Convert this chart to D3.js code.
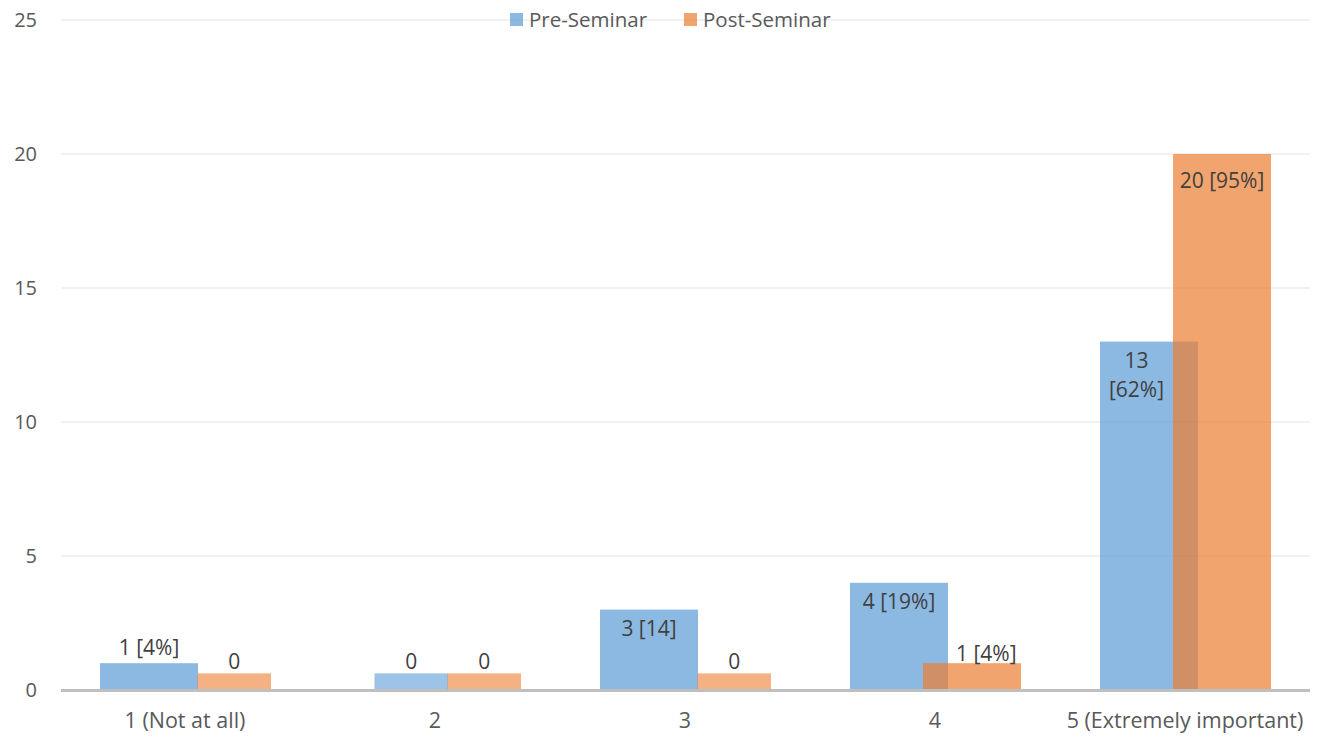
<!DOCTYPE html>
<html>
<head>
<meta charset="utf-8">
<script src="https://cdn.jsdelivr.net/npm/d3@7"></script>
<style>
  body { margin: 0; background: #fff; }
  text { font-family: "Open Sans", sans-serif; }
</style>
</head>
<body>
<div id="chart"></div>
<script>

// data
var categories = ["1 (Not at all)", "2", "3", "4", "5 (Extremely important)"];
var preValues = [1, 0, 3, 4, 13];
var postValues = [0, 0, 0, 1, 20];
var preLabels = ["1 [4%]", "0", "3 [14]", "4 [19%]", "13\n[62%]"];
var postLabels = ["0", "0", "0", "1 [4%]", "20 [95%]"];
var seriesNames = ["Pre-Seminar", "Post-Seminar"];
var yTicks = [0, 5, 10, 15, 20, 25];

var width = 1322, height = 738;
var margin = { top: 20, right: 12, bottom: 48, left: 60 };

var svg = d3.select("#chart").append("svg")
    .attr("width", width)
    .attr("height", height);

var x = d3.scaleBand()
    .domain(categories)
    .range([margin.left, width - margin.right]);

var y = d3.scaleLinear()
    .domain([0, 25])
    .range([height - margin.bottom, margin.top]);

var bw = x.bandwidth();
var barW = bw * 0.392;
var stubW = barW * 0.75;    // zero values get a short, narrower stub
var stubH = 0.62;
// series slot offsets inside each band (bars overlap a bit)
var offsets = [bw * 0.16, bw * 0.452];
var colors = ["#5b9bd5", "#ed7d31"];

//GRID
svg.append("g")
  .selectAll("line")
  .data(yTicks.filter(function(d){ return d > 0; }))
  .enter().append("line")
  .attr("x1", margin.left + 1)
  .attr("x2", width - margin.right)
  .attr("y1", function(d){ return y(d); })
  .attr("y2", function(d){ return y(d); })
  .attr("stroke", "#ececec")
  .attr("stroke-width", 1.5);

//Y LABELS
svg.append("g")
  .selectAll("text")
  .data(yTicks)
  .enter().append("text")
  .attr("x", 37)
  .attr("y", function(d){ return y(d); })
  .attr("dy", "0.36em")
  .attr("text-anchor", "end")
  .attr("fill", "#595959")
  .style("font-size", "20px")
  .text(function(d){ return d; });

// bar table
var bars = [];
categories.forEach(function(c, i){
  [preValues[i], postValues[i]].forEach(function(v, s){
    var slotX = x(c) + offsets[s];
    var zero = v == 0;
    var w = zero ? stubW : barW;
    bars.push({
      cat: c, s: s, value: v, zero: zero,
      x: zero ? slotX + barW - stubW : slotX,
      w: w,
      top: y(zero ? stubH : v),
      label: s == 0 ? preLabels[i] : postLabels[i]
    });
  });
});

svg.append("g")
  .selectAll("rect")
  .data(bars)
  .enter().append("rect")
  .attr("x", function(d){ return d.x; })
  .attr("width", function(d){ return d.w; })
  .attr("y", function(d){ return d.top; })
  .attr("height", function(d){ return y(0) - d.top + (d.zero ? 1.5 : 0); })
  .attr("fill", function(d){ return colors[d.s]; })
  .attr("fill-opacity", function(d){ return d.zero ? 0.6 : 0.7; });

//AXIS LINE
svg.append("line")
  .attr("x1", margin.left + 1)
  .attr("x2", width - margin.right)
  .attr("y1", y(0) + 0.5)
  .attr("y2", y(0) + 0.5)
  .attr("stroke", "#bfbfbf")
  .attr("stroke-width", 3);

//CATEGORY LABELS
svg.append("g")
  .selectAll("text")
  .data(categories)
  .enter().append("text")
  .attr("x", function(d){ return x(d) + bw / 2; })
  .attr("y", height - 10)
  .attr("text-anchor", "middle")
  .attr("fill", "#595959")
  .style("font-size", "21.5px")
  .text(function(d){ return d; });

//DATA LABELS
// small values sit above the bar, big ones inside near the top
var other = function(d){
  return bars.filter(function(b){ return b.cat == d.cat && b.s != d.s; })[0];
};
svg.append("g")
  .selectAll("text")
  .data(bars)
  .enter().append("text")
  .attr("fill", "#404040")
  .style("font-size", "21px")
  .attr("text-anchor", "middle")
  .each(function(d){
    var t = d3.select(this);
    var lines = d.label.split("\n");
    var inside = d.value >= 3;
    var cx = d.x + d.w / 2;
    if (lines.length > 1) {
      // wrapped label: centre in the part of the bar not covered by the neighbour
      var o = other(d);
      cx = d.x + (o.x - d.x) / 2;
    }
    var base = inside ? d.top + (d.value > 15 ? 34 : 26) : d.top - (d.zero ? 4 : 8);
    lines.forEach(function(l, k){
      t.append("tspan").attr("x", cx).attr("y", base + k * 29).text(l);
    });
    if (!inside && !d.zero && d.s == 1) {
      // nudge clear of the taller neighbour bar
      var o2 = other(d);
      var bb = this.getBBox();
      var minLeft = o2.x + o2.w + 8;
      if (bb.x < minLeft) {
        t.selectAll("tspan").attr("x", cx + (minLeft - bb.x));
      }
      t.attr("dy", 6);
    }
  });

//LEGEND
var legend = svg.append("g");
var lx = [510, 684];
seriesNames.forEach(function(n, i){
  legend.append("rect")
    .attr("x", lx[i])
    .attr("y", 13)
    .attr("width", 13)
    .attr("height", 13)
    .attr("fill", colors[i])
    .attr("fill-opacity", 0.7);
  legend.append("text")
    .attr("x", lx[i] + 19)
    .attr("y", 20)
    .attr("dy", "0.36em")
    .attr("fill", "#595959")
    .style("font-size", "20.5px")
    .text(n);
});

</script>
</body>
</html>
